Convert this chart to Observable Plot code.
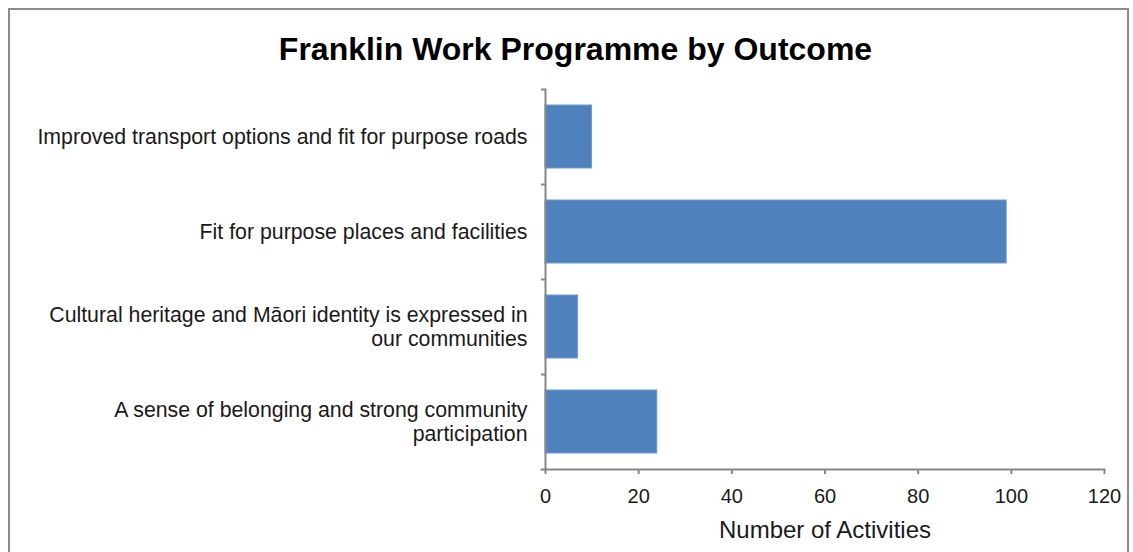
<!DOCTYPE html>
<html>
<head>
<meta charset="utf-8">
<script src="https://cdn.jsdelivr.net/npm/d3@7"></script>
<script src="https://cdn.jsdelivr.net/npm/@observablehq/plot@0.6"></script>
<style>
  html, body { margin: 0; padding: 0; background: #fff; }
  #wrap { position: relative; width: 1133px; height: 552px; overflow: hidden; font-family: "Liberation Sans", Arial, sans-serif; }
  #frame { position: absolute; left: 8px; top: 8px; width: 1121px; height: 600px; border: 2px solid #8c8c8c; box-sizing: border-box; }
  #title { position: relative; height: 80px; box-sizing: border-box; padding-top: 33px; padding-left: 18px; line-height: 32px; font-size: 32px; font-weight: bold; text-align: center; color: #000; }
  #chart { position: relative; }
</style>
</head>
<body>
<div id="wrap">
  <div id="frame"></div>
  <div id="title">Franklin Work Programme by Outcome</div>
  <div id="chart"></div>
</div>
<script>
const categories = [
  "Improved transport options and fit for purpose roads",
  "Fit for purpose places and facilities",
  "Cultural heritage and Māori identity is expressed in\nour communities",
  "A sense of belonging and strong community\nparticipation"
];
const activities = [10, 99, 7, 24];
const xTicks = [0, 20, 40, 60, 80, 100, 120];
const xLabel = "Number of Activities";

const data = categories.map((c, i) => ({category: c, value: activities[i]}));

const axisColor = "#868686";
const textColor = "#1a1a1a";

const chart = Plot.plot({
  width: 1133,
  height: 472,
  marginLeft: 545,
  marginRight: 29,
  marginTop: 9,
  marginBottom: 83,
  style: {fontFamily: "'Liberation Sans', Arial, sans-serif", color: textColor, background: "transparent"},
  x: {domain: [0, 120], ticks: xTicks},
  y: {domain: categories, padding: 0},
  marks: [
    Plot.barX(data, {x: "value", y: "category", fill: "#4f81bd", stroke: "#6b9bd6", strokeWidth: 1, insetTop: 16, insetBottom: 16}),
    Plot.frame({anchor: "left", stroke: axisColor, strokeWidth: 2}),
    Plot.frame({anchor: "bottom", stroke: axisColor, strokeWidth: 2, insetLeft: -4}),
    Plot.axisY({tickSize: 0, tickPadding: 18, fontSize: 21.3, lineHeight: 1.13, dy: -1, label: null, color: textColor}),
    Plot.axisY({tickSize: 4, dy: -47.5, tickFormat: null, label: null, stroke: axisColor, strokeWidth: 2}),
    Plot.axisX({ticks: xTicks, tickSize: 5, tickPadding: 14, fontSize: 20, label: null, stroke: axisColor, strokeWidth: 2, color: textColor}),
    Plot.text([xLabel], {frameAnchor: "bottom", dy: 68, fontSize: 24, fill: textColor})
  ]
});
document.getElementById("chart").appendChild(chart);
</script>
</body>
</html>
